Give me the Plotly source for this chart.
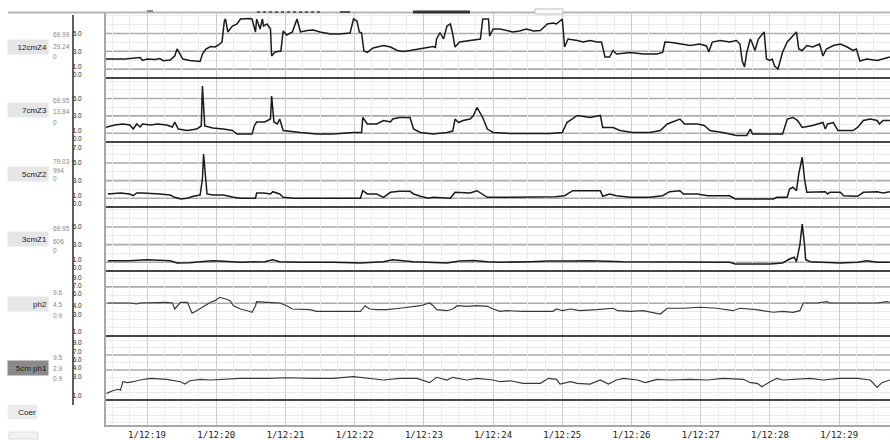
import plotly.graph_objects as go

# ---------------- data (time = seconds after 12:18:00, values in channel units) ----------------
TIME_TICKS = [60, 120, 180, 240, 300, 360, 420, 480, 540, 600, 660, 720]
TIME_LABELS = ["1/12:19", "1/12:20", "1/12:21", "1/12:22", "1/12:23", "1/12:24",
               "1/12:25", "1/12:26", "1/12:27", "1/12:28", "1/12:29", "1/12:30"]
X_RANGE = [24.4, 704.1]

CHANNELS = ["12cmZ4", "7cmZ3", "5cmZ2", "3cmZ1", "ph2", "5cm ph1"]
CH_SCALE_TOP = ["69.99", "69.95", "79.03", "69.95", "9.6", "9.5"]
CH_CURRENT = ["29.24", "13.84", "994", "606", "4.5", "2.9"]
CH_SCALE_BOTTOM = ["0", "0", "0", "0", "0.9", "0.9"]

Z4_T = [24,32,41,54,56,60,67,71,74,80,84,86,89,91,97,106,108,111,115,119,122,125,127,128,130,134,138,141,149,151,
        154,155,158,160,161,164,167,168,171,176,178,181,186,190,193,199,204,210,219,227,236,238,239,242,244,246,248,251,256,265,
        271,277,282,288,297,305,308,310,311,314,317,320,323,325,327,331,337,344,349,351,356,357,360,366,377,383,389,395,401,407,
        412,415,420,422,425,433,438,444,450,454,457,461,464,467,479,490,502,507,509,515,522,531,539,545,547,550,557,565,571,574,
        576,578,580,583,585,587,590,593,595,597,600,602,604,607,611,615,620,623,625,628,632,637,643,646,649,655,661,667,672,675,
        678,684,693,698,704]
Z4_V = [2.13,2.13,2.13,2.3,1.97,2.13,2.08,2.19,1.94,2.02,2.47,3.26,2.58,2.13,1.97,1.85,2.7,3.26,3.54,3.48,
        3.71,4.04,6.4,6.63,5.17,5.84,6.07,6.63,6.69,6.63,5.17,6.63,5.5,6.63,5.84,6.07,5.5,2.47,2.92,3.03,
        5.28,4.83,5.17,6.63,5.17,5.34,5.39,5.17,4.94,4.94,5.06,6.07,6.63,6.4,5.17,5.06,3.03,2.87,3.37,3.65,
        3.48,3.09,2.98,3.09,3.26,3.48,3.54,3.43,4.38,5.11,4.38,5.84,6.07,4.94,3.48,4.04,4.16,4.27,4.38,6.63,
        6.63,4.72,5.5,5.5,5.17,5.28,5.5,5.28,5.34,6.07,6.18,6.07,6.63,3.48,4.38,4.21,4.04,4.21,4.04,4.04,
        2.36,2.36,3.09,2.7,2.87,2.7,2.7,2.87,4.04,3.99,3.82,3.65,3.82,3.6,2.92,4.04,4.21,4.04,4.21,3.82,
        1.91,1.24,2.92,4.38,3.82,3.09,4.38,4.94,5.17,2.13,1.97,2.13,1.35,1.01,2.92,4.04,4.72,5.17,3.26,3.09,
        3.65,3.48,3.82,2.47,3.26,3.65,3.82,3.48,3.09,3.26,1.91,2.13,1.97,2.13,2.36]

Z3_T = [24,32,39,45,48,51,54,56,63,69,77,82,84,87,95,103,107,108,110,117,126,134,138,151,153,155,162,167,168,170,
        173,175,178,184,193,207,221,239,246,247,251,259,265,271,273,279,288,291,297,308,320,325,327,330,334,340,343,346,349,351,
        355,360,375,392,409,420,424,433,444,453,455,464,470,481,496,505,511,522,526,537,543,548,559,571,580,583,585,597,611,615,
        620,624,628,637,646,648,650,655,659,672,676,681,687,693,695,698,704]
Z3_V = [1.67,1.95,2.07,1.95,1.49,2.07,1.72,2.07,1.95,2.07,1.95,1.72,2.3,1.49,1.32,1.49,1.84,6.44,1.84,1.61,
        1.49,1.32,0.92,0.92,1.84,2.3,2.3,2.64,5.29,2.3,2.07,2.64,1.32,1.21,1.09,0.92,0.92,1.09,1.09,2.82,
        2.07,2.07,2.47,2.3,2.64,2.82,2.82,1.49,1.09,0.92,1.09,1.26,2.64,2.24,2.47,2.64,3.05,3.97,3.22,2.82,
        1.49,1.09,0.98,0.98,0.98,1.09,2.24,3.05,2.82,3.05,1.67,1.67,1.32,1.09,1.09,1.32,2.07,2.64,2.07,2.07,
        1.9,1.32,1.09,0.75,0.75,1.49,0.92,0.92,0.92,2.64,2.82,2.47,1.67,1.9,2.24,1.49,2.07,2.24,1.32,1.32,
        1.67,2.47,2.64,2.47,2.07,2.47,2.47]

Z2_T = [26,37,45,48,51,56,71,80,84,89,95,100,106,108,109,111,112,117,126,135,141,154,155,161,167,169,175,178,187,207,
        227,245,247,251,259,265,271,279,288,291,297,304,308,323,327,334,340,346,350,355,375,401,414,422,429,441,453,455,461,467,
        479,496,507,513,522,525,537,546,565,570,591,603,606,615,617,620,623,625,628,630,632,643,648,650,652,661,664,676,681,693,
        698,704]
Z2_V = [1.48,1.59,1.48,1.28,1.59,1.59,1.48,1.36,1.1,0.91,0.99,1.22,1.36,3.18,6.02,3.18,1.48,1.36,1.36,1.1,
        0.99,0.99,1.59,1.59,1.48,1.74,1.48,1.1,0.99,0.99,0.99,0.99,1.85,1.48,1.48,1.1,1.67,1.78,1.78,1.48,
        1.22,0.99,1.1,0.99,1.67,1.67,1.59,1.85,1.48,1.1,1.1,1.1,1.17,1.28,1.85,1.85,1.85,1.22,1.48,1.28,
        1.1,1.1,1.28,1.74,1.85,1.48,1.48,1.28,1.28,0.91,0.91,0.91,1.1,1.1,2.05,2.24,1.85,3.75,5.65,3.18,
        1.67,1.67,1.74,1.48,1.67,1.67,1.28,1.22,1.67,1.74,1.59,1.74]

Z1_T = [26,45,60,71,80,86,97,106,117,127,141,162,169,175,193,221,245,265,273,291,308,320,331,343,355,366,392,409,429,444,
        473,502,531,565,570,600,611,617,621,623,626,628,630,631,635,646,661,676,684,693,704]
Z1_V = [1.17,1.17,1.28,1.2,1.17,0.91,0.93,1.06,1.17,1.1,1.0,1.06,1.28,1.06,0.99,0.99,0.91,1.06,1.28,1.06,
        0.99,0.91,1.14,1.2,1.06,0.99,1.06,1.14,1.14,1.17,1.06,1.06,1.06,0.99,0.8,0.8,0.91,1.36,1.56,1.06,
        3.0,5.34,3.0,1.28,1.06,0.99,0.91,0.99,1.17,0.99,0.99]

PH2_T = [26,45,51,54,77,82,84,87,89,95,99,103,108,115,119,123,128,132,135,141,147,151,154,155,164,175,181,186,201,207,
         221,245,249,253,259,268,279,288,297,305,308,311,320,325,329,337,346,355,360,366,372,386,412,415,420,427,435,450,464,468,
         479,490,499,505,511,525,539,554,568,574,588,603,611,620,626,629,641,649,652,676,693,701,704]
PH2_V = [4.03,4.03,3.91,4.03,4.1,4.03,3.3,3.79,4.12,4.12,2.78,3.09,3.51,4.12,4.32,4.73,4.52,4.32,3.7,3.3,
         3.09,2.9,3.7,4.19,4.12,4.03,3.7,3.3,3.22,3.02,3.02,3.02,3.7,3.3,3.22,3.22,3.39,3.51,3.7,4.03,
         3.7,3.22,3.09,3.3,3.7,3.63,3.7,3.63,3.3,3.02,3.09,3.02,3.02,3.3,3.09,3.3,3.09,3.22,3.39,3.09,
         3.02,3.09,2.9,2.69,3.39,3.39,3.51,3.39,3.09,3.39,3.22,2.9,3.02,2.9,3.09,4.03,4.03,4.19,4.03,4.03,
         4.03,4.19,4.12]

PH1_T = [25,30,35,37,39,43,48,54,63,77,89,93,97,106,115,123,135,141,164,181,204,221,239,251,265,279,294,305,311,320,
         325,337,346,360,366,375,386,401,408,415,418,427,433,444,453,460,467,473,485,492,502,513,531,546,559,577,583,589,593,600,
         606,611,623,635,646,661,676,687,693,697,704]
PH1_V = [0.89,1.24,1.43,1.3,2.44,2.31,2.44,2.67,2.89,2.76,2.44,2.13,2.57,2.76,2.67,2.76,2.8,2.89,2.89,2.97,
         2.89,2.89,3.11,2.89,2.67,2.89,2.89,2.31,3.03,2.67,3.03,2.67,2.89,2.67,2.44,2.57,2.23,2.23,2.89,2.76,
         2.13,2.44,2.23,2.13,2.67,2.13,2.67,2.89,2.67,2.31,2.76,2.67,2.76,2.67,2.89,2.76,2.31,2.23,1.77,2.44,
         2.89,2.67,2.76,2.89,2.67,2.89,2.89,2.67,1.69,2.31,2.67]

# scale labels as printed on the screen (text, and the level where each is printed)
Z_TICK_TEXT = ["0.0", "1.0", "3.0", "5.0"]
Z_TICK_AT = [0.35, 1.25, 3, 5]
Z_TOP_TICK_TEXT = ["0.0", "1.0", "3.0", "5.0", "7.0"]
Z_TOP_TICK_AT = [0.35, 1.25, 3, 5, 6.7]
PH2_TICK_TEXT = ["1.0", "3.0", "4.0", "6.0", "7.0", "9.0"]
PH2_TICK_AT = [0.49, 2.57, 3.67, 5.13, 6.11, 7.09]
PH1_TICK_TEXT = ["1.0", "3.0", "4.0", "6.0", "7.0", "9.0"]
PH1_TICK_AT = [0.53, 3.07, 4.27, 5.33, 6.4, 7.6]
Z_GRID = [1, 3, 5]
Z_FAINT = [2, 4, 6, 7]
PH_GRID = [4, 6]
PH2_FAINT = [1, 2, 3, 5, 7]
PH1_FAINT = [-3, -2, -1, 1, 2, 3, 5, 7, 8]

# ---------------- layout geometry ----------------
W, H = 890, 440
M_L, M_R, M_T, M_B = 106, 0, 13, 15
PW, PH = W - M_L - M_R, H - M_T - M_B


def px_x(p):
    return (p - M_L) / PW


def px_y(p):
    return (H - M_B - p) / PH


STRIPS = [(13, 79), (79, 143), (143, 208), (208, 272), (272, 337), (337, 425)]
Y_RANGES = [[-0.11, 7.30], [-0.115, 7.24], [-0.114, 7.27], [-0.114, 7.16], [-0.122, 7.82], [-3.33, 8.4]]
series = [(Z4_T, Z4_V), (Z3_T, Z3_V), (Z2_T, Z2_V), (Z1_T, Z1_V), (PH2_T, PH2_V), (PH1_T, PH1_V)]
tick_at = [Z_TICK_AT, Z_TICK_AT, Z_TOP_TICK_AT, Z_TICK_AT, PH2_TICK_AT, PH1_TICK_AT]
tick_text = [Z_TICK_TEXT, Z_TICK_TEXT, Z_TOP_TICK_TEXT, Z_TICK_TEXT, PH2_TICK_TEXT, PH1_TICK_TEXT]
gridvals = [Z_GRID, Z_GRID, Z_GRID, Z_GRID, PH_GRID, PH_GRID]
faintvals = [Z_FAINT, Z_FAINT, Z_FAINT, Z_FAINT, PH2_FAINT, PH1_FAINT]
line_styles = [("#1a1a1a", 1.5)] * 4 + [("#383838", 1.2)] * 2

fig = go.Figure()
shapes = []
annotations = []
layout_axes = {}

for i, (t, v) in enumerate(series):
    yid = "y" if i == 0 else f"y{i + 1}"
    ykey = "yaxis" if i == 0 else f"yaxis{i + 1}"
    col, wd = line_styles[i]
    fig.add_trace(go.Scatter(x=t, y=v, mode="lines", xaxis="x", yaxis=yid,
                             line=dict(color=col, width=wd), hoverinfo="skip", showlegend=False))
    top, bot = STRIPS[i]
    layout_axes[ykey] = dict(
        domain=[px_y(bot), px_y(top)], range=Y_RANGES[i], anchor="x",
        tickmode="array", tickvals=tick_at[i], ticktext=tick_text[i],
        ticks="", ticklabelstandoff=21,
        tickfont=dict(family="Liberation Sans", size=6.5, color="#222222"),
        showgrid=False, zeroline=False, showline=True, linecolor="#a8a8a8", linewidth=2,
        minor=dict(tickmode="array", tickvals=faintvals[i], showgrid=True, gridcolor="#ebebeb", gridwidth=1),
        fixedrange=True, automargin=False,
    )
    for g in gridvals[i]:
        shapes.append(dict(type="line", xref="x domain", yref=yid, x0=0, x1=1, y0=g, y1=g,
                           line=dict(color="#ababab", width=1.6), layer="below"))
    shapes.append(dict(type="line", xref="x domain", yref=yid, x0=0, x1=1, y0=0, y1=0,
                       line=dict(color="#454545", width=2), layer="above"))

# channel name boxes and scale numbers (left panel)
label_centres = [47, 110, 174, 239, 304, 368]
num_rows = [(35, 47, 57), (100, 111, 122), (162, 170, 178), (228, 241, 250), (293, 304, 315), (357, 368, 378)]
for i, name in enumerate(CHANNELS):
    sel = name == "5cm ph1"
    annotations.append(dict(text=name, xref="paper", yref="paper", x=px_x(49), y=px_y(label_centres[i]),
                            xanchor="right", yanchor="middle", showarrow=False, width=38, height=12,
                            align="right", bgcolor="#8a8a8a" if sel else "#e6e6e6", borderpad=1,
                            font=dict(family="Liberation Sans", size=8, color="#1a1a1a")))
    for txt, yy in zip((CH_SCALE_TOP[i], CH_CURRENT[i], CH_SCALE_BOTTOM[i]), num_rows[i]):
        annotations.append(dict(text=txt, xref="paper", yref="paper", x=px_x(51), y=px_y(yy),
                                xanchor="left", yanchor="middle", showarrow=False,
                                font=dict(family="Liberation Sans", size=6.5, color="#858585")))

annotations.append(dict(text="Coer", xref="paper", yref="paper", x=px_x(38), y=px_y(411.5),
                        xanchor="right", yanchor="middle", showarrow=False, width=27, height=12,
                        align="right", bgcolor="#ececec", borderpad=1,
                        font=dict(family="Liberation Sans", size=8, color="#1a1a1a")))
# partially visible next time label (cut by the window edge, as on the screen)
annotations.append(dict(text=TIME_LABELS[-1], xref="paper", yref="paper",
                        x=(TIME_TICKS[-1] - X_RANGE[0]) / (X_RANGE[1] - X_RANGE[0]), y=px_y(433),
                        xanchor="center", yanchor="middle", showarrow=False,
                        font=dict(family="DejaVu Sans Mono", size=9, color="#222222")))

# panel furniture
shapes += [
    dict(type="line", xref="paper", yref="paper", x0=px_x(73), x1=px_x(73), y0=px_y(15), y1=px_y(405),
         line=dict(color="#2a2a2a", width=1.5)),
    dict(type="line", xref="paper", yref="paper", x0=px_x(8), x1=1, y0=px_y(12.5), y1=px_y(12.5),
         line=dict(color="#b5b5b5", width=2)),
    dict(type="line", xref="paper", yref="paper", x0=px_x(413), x1=px_x(470), y0=px_y(12), y1=px_y(12),
         line=dict(color="#333333", width=3)),
    dict(type="line", xref="paper", yref="paper", x0=px_x(340), x1=px_x(350), y0=px_y(12), y1=px_y(12),
         line=dict(color="#555555", width=2)),
    dict(type="line", xref="paper", yref="paper", x0=px_x(257), x1=px_x(323), y0=px_y(12), y1=px_y(12),
         line=dict(color="#444444", width=1.5, dash="dot")),
    dict(type="line", xref="paper", yref="paper", x0=px_x(147), x1=px_x(153), y0=px_y(11), y1=px_y(11),
         line=dict(color="#666666", width=1.5)),
    dict(type="rect", xref="paper", yref="paper", x0=px_x(535), x1=px_x(563), y0=px_y(14), y1=px_y(9),
         line=dict(color="#bdbdbd", width=1), fillcolor="white"),
    dict(type="rect", xref="paper", yref="paper", x0=px_x(9), x1=px_x(38), y0=px_y(439), y1=px_y(432),
         line=dict(color="#dddddd", width=1), fillcolor="#f2f2f2"),
]

fig.update_layout(
    width=W, height=H, autosize=False,
    margin=dict(l=M_L, r=M_R, t=M_T, b=M_B, pad=0),
    paper_bgcolor="white", plot_bgcolor="white",
    showlegend=False,
    xaxis=dict(domain=[0, 1], range=X_RANGE, anchor="y6",
               tickmode="array", tickvals=TIME_TICKS, ticktext=TIME_LABELS,
               ticks="", ticklabelstandoff=0,
               tickfont=dict(family="DejaVu Sans Mono", size=9, color="#222222"),
               showgrid=True, gridcolor="#cdcdcd", gridwidth=1,
               minor=dict(tickmode="linear", tick0=0, dtick=15, showgrid=True, gridcolor="#ececec", gridwidth=1),
               showline=True, linecolor="#a8a8a8", linewidth=2, zeroline=False,
               fixedrange=True, automargin=False),
    shapes=shapes, annotations=annotations,
    **layout_axes,
)

fig.write_html("out.html")
